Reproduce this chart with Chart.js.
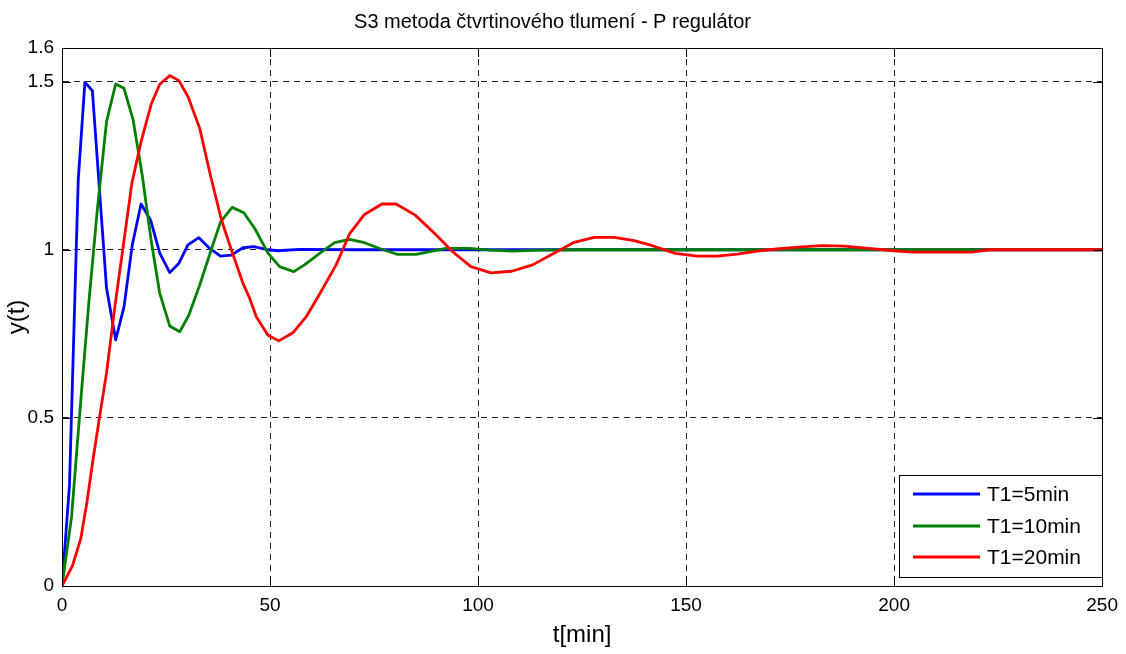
<!DOCTYPE html>
<html>
<head>
<meta charset="utf-8">
<script src="https://cdn.jsdelivr.net/npm/chart.js@4.4.0/dist/chart.umd.min.js"></script>
<style>
html,body{margin:0;padding:0;background:#fff;}
#wrap{width:1126px;height:654px;}
</style>
</head>
<body>
<div id="wrap"><canvas id="c" width="1126" height="654"></canvas></div>
<script>
// ---- data ----
const titleText = "S3 metoda čtvrtinového tlumení - P regulátor";
const xTitle = "t[min]";
const yTitle = "y(t)";
const seriesLabels = ["T1=5min", "T1=10min", "T1=20min"];
const seriesColors = ["#0000FF", "#008000", "#FF0000"];
const xTickValues = [0, 50, 100, 150, 200, 250];
const yTickValues = [0, 0.5, 1, 1.5, 1.6];

const tBlue = [0, 1.8, 3.9, 5.5, 7.3, 10.7, 12.9, 14.9, 16.9, 19.0, 21.3, 23.5, 25.9, 28.1, 30.3, 32.9, 35.5, 38.1, 40.7, 43.5, 46.1, 49.5, 51.9, 57.1, 70, 100, 150, 200, 250];
const yBlue = [0, 0.30, 1.207, 1.498, 1.473, 0.886, 0.732, 0.83, 1.015, 1.136, 1.088, 0.99, 0.932, 0.96, 1.015, 1.036, 1.004, 0.981, 0.984, 1.006, 1.009, 1.0, 0.997, 1.001, 1.0, 1.0, 1.0, 1.0, 1.0];

const tGreen = [0, 2.3, 4.5, 6.5, 8.5, 10.7, 12.9, 14.9, 17.1, 19.3, 21.4, 23.5, 25.9, 28.3, 30.5, 33.1, 35.6, 38.1, 40.9, 43.7, 46.3, 49.5, 52.3, 55.7, 58.3, 62.0, 65.5, 69.1, 72.7, 76.5, 80.7, 85.1, 92.3, 97.9, 103.0, 108.3, 115, 125, 250];
const yGreen = [0, 0.206, 0.55, 0.85, 1.12, 1.381, 1.493, 1.48, 1.386, 1.22, 1.03, 0.870, 0.773, 0.756, 0.806, 0.895, 0.99, 1.083, 1.126, 1.11, 1.064, 0.99, 0.95, 0.935, 0.955, 0.99, 1.021, 1.031, 1.021, 1.003, 0.986, 0.986, 1.004, 1.004, 0.999, 0.996, 0.999, 1.0, 1.0];

const tRed = [0, 2.5, 4.5, 6.0, 7.5, 9.0, 10.7, 12.7, 14.7, 16.8, 19.1, 21.5, 23.5, 25.9, 28.1, 30.3, 33.1, 35.7, 38.3, 40.7, 43.5, 45.1, 46.7, 49.5, 52.1, 55.5, 58.7, 62.1, 65.9, 69.1, 72.7, 76.9, 80.3, 84.9, 89.5, 93.9, 98.3, 103.1, 108.1, 113.1, 117.6, 123.1, 127.9, 132.7, 137.5, 141.9, 147.4, 152.7, 157.5, 162.3, 167.5, 172.5, 177.0, 182.7, 188.0, 193.9, 199.9, 204.3, 211.0, 218.6, 222.7, 250];
const yRed = [0, 0.06, 0.14, 0.25, 0.38, 0.5, 0.633, 0.83, 1.009, 1.198, 1.326, 1.435, 1.492, 1.518, 1.503, 1.455, 1.361, 1.22, 1.09, 1.0, 0.9, 0.856, 0.801, 0.746, 0.729, 0.753, 0.801, 0.872, 0.955, 1.047, 1.105, 1.136, 1.136, 1.103, 1.049, 0.994, 0.950, 0.931, 0.936, 0.955, 0.985, 1.022, 1.037, 1.037, 1.027, 1.012, 0.989, 0.981, 0.981, 0.987, 0.997, 1.003, 1.008, 1.012, 1.011, 1.004, 0.997, 0.993, 0.993, 0.993, 1.0, 1.0];

function pts(ts, ys){ return ts.map((t,i)=>({x:t, y:ys[i]})); }

const FONT = "'Liberation Sans', Arial, Helvetica, sans-serif";

// box, inward ticks and legend (MATLAB style)
const matlabFrame = {
  id: 'matlabFrame',
  afterDraw(chart) {
    const ctx = chart.ctx, a = chart.chartArea;
    const xs = chart.scales.x, ys = chart.scales.y;
    ctx.save();
    ctx.strokeStyle = '#000';
    ctx.lineWidth = 1;
    ctx.setLineDash([]);
    ctx.strokeRect(Math.round(a.left)+0.5, Math.round(a.top)+0.5, Math.round(a.right-a.left), Math.round(a.bottom-a.top));
    const tl = 9;
    ctx.beginPath();
    xTickValues.forEach(v => {
      const px = Math.round(xs.getPixelForValue(v)) + 0.5;
      ctx.moveTo(px, a.bottom); ctx.lineTo(px, a.bottom - tl);
      ctx.moveTo(px, a.top); ctx.lineTo(px, a.top + tl);
    });
    yTickValues.forEach(v => {
      const py = Math.round(ys.getPixelForValue(v)) + 0.5;
      ctx.moveTo(a.left, py); ctx.lineTo(a.left + tl, py);
      ctx.moveTo(a.right, py); ctx.lineTo(a.right - tl, py);
    });
    ctx.stroke();

    // legend box
    const bx = 899.5, by = 475.5, bw = 203, bh = 102;
    ctx.fillStyle = '#fff';
    ctx.fillRect(bx, by, bw, bh);
    ctx.strokeRect(bx, by, bw, bh);
    const rows = [494, 526, 557];
    ctx.font = "21px " + FONT;
    ctx.textBaseline = 'middle';
    ctx.textAlign = 'left';
    seriesLabels.forEach((lab, i) => {
      ctx.strokeStyle = seriesColors[i];
      ctx.lineWidth = 3;
      ctx.beginPath();
      ctx.moveTo(913, rows[i]); ctx.lineTo(980, rows[i]);
      ctx.stroke();
      ctx.fillStyle = '#000';
      ctx.fillText(lab, 987, rows[i] + 1);
    });
    ctx.restore();
  }
};

const gridColor = (ctx, edges) => {
  const v = ctx.tick ? ctx.tick.value : null;
  return edges.includes(v) ? 'rgba(0,0,0,0)' : '#222';
};

new Chart(document.getElementById('c'), {
  type: 'line',
  data: {
    datasets: [
      { label: seriesLabels[0], data: pts(tBlue, yBlue), borderColor: seriesColors[0], order: 3 },
      { label: seriesLabels[1], data: pts(tGreen, yGreen), borderColor: seriesColors[1], order: 2 },
      { label: seriesLabels[2], data: pts(tRed, yRed), borderColor: seriesColors[2], order: 1 }
    ]
  },
  options: {
    responsive: false,
    animation: false,
    devicePixelRatio: 1,
    layout: { padding: { left: 0, right: 21, top: 0, bottom: 0 } },
    elements: {
      line: { borderWidth: 2.8, tension: 0, fill: false, borderJoinStyle: 'round', borderCapStyle: 'round' },
      point: { radius: 0, hoverRadius: 0 }
    },
    plugins: {
      legend: { display: false },
      tooltip: { enabled: false },
      title: {
        display: true,
        text: titleText,
        color: '#000',
        font: { family: FONT, size: 20, weight: 'normal' },
        padding: { top: 10, bottom: 14 }
      }
    },
    scales: {
      x: {
        type: 'linear',
        min: 0, max: 250,
        afterBuildTicks: s => { s.ticks = xTickValues.map(v => ({ value: v })); },
        afterFit: s => { s.height = 68; },
        ticks: {
          color: '#000', font: { family: FONT, size: 19 }, padding: 8,
          maxRotation: 0, autoSkip: false,
          callback: v => String(v)
        },
        grid: { drawTicks: false, color: c => gridColor(c, [0, 250]), lineWidth: 1 },
        border: { display: true, color: '#000', dash: [6, 5] },
        title: {
          display: true, text: xTitle, color: '#000',
          font: { family: FONT, size: 24 }, padding: { top: 0, bottom: 4 }
        }
      },
      y: {
        type: 'linear',
        min: 0, max: 1.6,
        afterBuildTicks: s => { s.ticks = yTickValues.map(v => ({ value: v })); },
        afterFit: s => { s.width = 62; },
        ticks: {
          color: '#000', font: { family: FONT, size: 19 }, padding: 8,
          autoSkip: false,
          callback: v => String(v)
        },
        grid: { drawTicks: false, color: c => gridColor(c, [0, 1.6]), lineWidth: 1 },
        border: { display: true, color: '#000', dash: [6, 5] },
        title: {
          display: true, text: yTitle, color: '#000',
          font: { family: FONT, size: 24 }, padding: { top: 3, bottom: 0 }
        }
      }
    }
  },
  plugins: [matlabFrame]
});
</script>
</body>
</html>
